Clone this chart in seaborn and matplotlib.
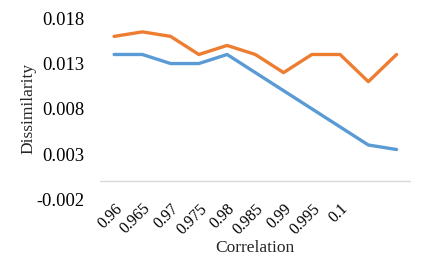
import matplotlib
matplotlib.use("Agg")
import matplotlib.pyplot as plt
import seaborn as sns
import pandas as pd
import numpy as np

categories = ["0.96", "0.965", "0.97", "0.975", "0.98", "0.985", "0.99", "0.995", "0.1", "", ""]
series_blue = [0.014, 0.014, 0.013, 0.013, 0.014, 0.012, 0.010, 0.008, 0.006, 0.004, 0.0035]
series_orange = [0.016, 0.0165, 0.016, 0.014, 0.015, 0.014, 0.012, 0.014, 0.014, 0.011, 0.014]
y_ticks = [-0.002, 0.003, 0.008, 0.013, 0.018]

sns.set_theme(style="white")
plt.rcParams['font.family'] = ['Liberation Serif', 'DejaVu Serif']

pos = list(range(len(categories)))
df = pd.DataFrame({
    "pos": pos * 2,
    "value": series_blue + series_orange,
    "series": ["Series1"] * len(pos) + ["Series2"] * len(pos),
})

fig = plt.figure(figsize=(4.37, 2.62), dpi=100)
ax = fig.add_axes([0.2288, 0.2393, 0.7110, 0.6909])
sns.lineplot(data=df, x="pos", y="value", hue="series",
             palette={"Series1": "#5B9BD5", "Series2": "#ED7D31"},
             linewidth=2.4, sort=False, legend=False, ax=ax)

ax.set_xlim(-0.5, len(categories) - 0.5)
ax.set_ylim(-0.002, 0.018)
ax.set_yticks(y_ticks)
ax.set_yticklabels([f"{v:.3f}" for v in y_ticks], fontsize=13.3)
ax.set_xticks(pos)
ax.set_xticklabels(categories, rotation=45, ha="right", rotation_mode="anchor", fontsize=11.5)
ax.axhline(0, color="#d9d9d9", linewidth=1.0, zorder=0)
for s in ax.spines.values():
    s.set_visible(False)
ax.tick_params(axis="y", length=0, pad=11, colors="black")
ax.tick_params(axis="x", length=0, pad=1, colors="black")
ax.set_xlabel("Correlation", fontsize=12.5)
ax.set_ylabel("Dissimilarity", fontsize=12.5)
ax.xaxis.set_label_coords(0.5, -0.225)
ax.yaxis.set_label_coords(-0.205, 0.5)
ax.grid(False)

fig.savefig("out.png", dpi=100)
